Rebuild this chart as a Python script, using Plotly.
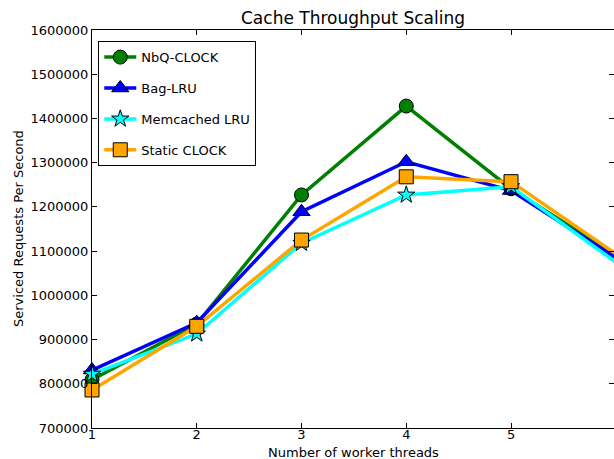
import plotly.graph_objects as go

threads = [1, 2, 3, 4, 5, 6]
nbq_clock = [809000, 935000, 1227000, 1428000, 1241000, 1090000]
bag_lru = [831000, 938000, 1189000, 1302000, 1237000, 1085000]
memcached_lru = [822000, 913000, 1118000, 1227000, 1246000, 1075000]
static_clock = [786000, 930000, 1125000, 1268000, 1257000, 1094000]

series = [
    ("NbQ-CLOCK", nbq_clock, "#008000", "circle", 14),
    ("Bag-LRU", bag_lru, "#0000ff", "triangle-up", 15),
    ("Memcached LRU", memcached_lru, "#00ffff", "star", 13),
    ("Static CLOCK", static_clock, "#ffa500", "square", 14),
]

fig = go.Figure()
for i, (name, vals, color, sym, size) in enumerate(series):
    fig.add_trace(go.Scatter(
        x=threads, y=vals, name=name, mode="lines+markers",
        legendgroup=f"g{i}",
        line=dict(color=color, width=3.5),
        marker=dict(symbol=sym, size=size, color=color,
                    line=dict(color="black", width=1)),
        cliponaxis=False,
    ))

font = "DejaVu Sans, sans-serif"
W, H = 614, 459
fig.update_layout(
    width=W, height=H,
    margin=dict(l=92, r=0, t=30, b=31),
    paper_bgcolor="white", plot_bgcolor="white",
    font=dict(family=font, size=13, color="black"),
    title=dict(text="Cache Throughput Scaling", x=353 / W, xanchor="center",
               y=1 - 18 / H, yanchor="middle", font=dict(size=17)),
    showlegend=True,
    legend=dict(x=0.012, y=0.972, xanchor="left", yanchor="top",
                bordercolor="black", borderwidth=1, bgcolor="white",
                tracegroupgap=11, itemwidth=32, font=dict(size=13)),
    annotations=[
        dict(text="Number of worker threads", xref="paper", yref="paper",
             x=(353 - 92) / 522, y=-(452 - 428) / 398, xanchor="center",
             yanchor="middle", showarrow=False, font=dict(size=13)),
        dict(text="Serviced Requests Per Second", xref="paper", yref="paper",
             x=-(92 - 18) / 522, y=0.5, xanchor="center", yanchor="middle",
             textangle=-90, showarrow=False, font=dict(size=13)),
    ],
)
fig.update_xaxes(
    range=[1, 5.983], tickvals=[1, 2, 3, 4, 5, 6],
    ticks="inside", ticklen=5, tickcolor="black", ticklabelstandoff=-6,
    showline=True, linecolor="black", linewidth=1, mirror="ticks",
    showgrid=False, zeroline=False, automargin=False,
)
fig.update_yaxes(
    range=[700000, 1600000], dtick=100000, tickformat="d",
    ticks="inside", ticklen=5, tickcolor="black",
    showline=True, linecolor="black", linewidth=1, mirror="ticks",
    showgrid=False, zeroline=False, automargin=False,
)
fig.write_html(
    "out.html",
    config={"displayModeBar": False},
    post_script="document.body.style.margin='0';"
                "document.body.style.overflow='hidden';",
)
